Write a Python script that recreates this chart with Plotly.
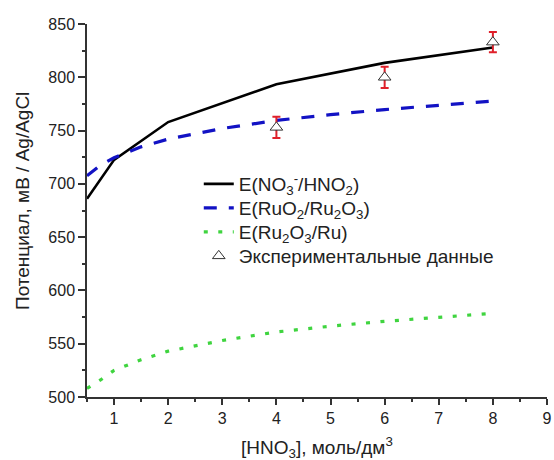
import plotly.graph_objects as go

# HNO3 concentration grid, mol/dm3
conc = [0.5, 0.75, 1, 1.5, 2, 3, 4, 5, 6, 7, 8]

# E(NO3-/HNO2), mV (piecewise, computed at these concentrations)
conc_no3 = [0.5, 1, 2, 4, 6, 8]
e_no3 = [686, 722.5, 758, 793.5, 813.5, 828]

# E(RuO2/Ru2O3), mV
e_ruo2 = [707.5, 717.5, 724.5, 734.7, 742, 752, 759.5, 765, 769.7, 773.5, 777.7]

# E(Ru2O3/Ru), mV
e_ru2o3 = [508, 516, 525, 535, 543, 553, 561, 566.5, 571, 575, 578.5]

# Experimental potentials with error
conc_exp = [4, 6, 8]
e_exp = [753, 800, 833]
e_err = [10, 10, 9.5]

FONT = "Liberation Sans, Arial, sans-serif"
TEXT = "#222222"

fig = go.Figure()

fig.add_trace(go.Scatter(
    x=conc_no3, y=e_no3, mode="lines",
    line=dict(color="#000000", width=2.6),
    name="E(NO<sub>3</sub><sup>-</sup>/HNO<sub>2</sub>)",
    legend="legend",
))
fig.add_trace(go.Scatter(
    x=conc, y=e_ruo2, mode="lines",
    line=dict(color="#1212c4", width=3.2, dash="13px,12px"),
    name="E(RuO<sub>2</sub>/Ru<sub>2</sub>O<sub>3</sub>)",
    legend="legend2",
))
fig.add_trace(go.Scatter(
    x=conc, y=e_ru2o3, mode="lines",
    line=dict(color="#3fd43f", width=3.2, dash="4px,10.5px"),
    name="E(Ru<sub>2</sub>O<sub>3</sub>/Ru)",
    legend="legend3",
))
fig.add_trace(go.Scatter(
    x=conc_exp, y=e_exp, mode="markers",
    marker=dict(symbol="triangle-up", size=11, color="white",
                line=dict(color="#333333", width=1)),
    error_y=dict(type="data", array=e_err, visible=True,
                 color="#e0202a", thickness=2, width=4),
    name="Экспериментальные данные",
    legend="legend4",
))

axis_common = dict(
    showline=True, linecolor="#333333", linewidth=1.5,
    showgrid=False, zeroline=False, mirror=False,
    ticks="outside", tickcolor="#333333", tickwidth=1.5,
    tickfont=dict(family=FONT, size=16, color=TEXT),
    ticklabeloverflow="allow",
)

fig.update_xaxes(
    range=[0.5, 9], tick0=1, dtick=1, ticklen=6,
    minor=dict(dtick=0.5, tick0=0.5, ticks="outside", ticklen=3,
               tickcolor="#333333", tickwidth=1.5),
    **axis_common,
)
fig.update_yaxes(
    range=[500, 850], tick0=500, dtick=50, ticklen=7,
    minor=dict(dtick=25, tick0=500, ticks="outside", ticklen=3.5,
               tickcolor="#333333", tickwidth=1.5),
    **axis_common,
)

fig.add_annotation(
    text="Потенциал, мВ / Ag/AgCl", textangle=-90,
    x=0, xref="paper", xanchor="center", xshift=-64,
    y=0.5255, yref="paper", yanchor="middle",
    showarrow=False, font=dict(family=FONT, size=19, color=TEXT),
)
fig.add_annotation(
    text="[HNO<sub>3</sub>], моль/дм<sup>3</sup>",
    x=0.5, xref="paper", xanchor="center",
    y=0, yref="paper", yanchor="middle", yshift=-50,
    showarrow=False, font=dict(family=FONT, size=19, color=TEXT),
)

# one legend per entry so the rows can sit closer together
plot_top, plot_bottom = 24, 397
row_centres = [184, 208, 232, 256]


def legend_box(yc):
    return dict(
        x=0.243, y=(plot_bottom - yc) / (plot_bottom - plot_top),
        xanchor="left", yanchor="middle",
        bgcolor="rgba(0,0,0,0)", borderwidth=0,
        font=dict(family=FONT, size=19, color=TEXT),
    )


fig.update_layout(
    width=554, height=460,
    margin=dict(l=87, r=2, t=24, b=63),
    paper_bgcolor="white", plot_bgcolor="white",
    showlegend=True,
    legend=legend_box(row_centres[0]),
    legend2=legend_box(row_centres[1]),
    legend3=legend_box(row_centres[2]),
    legend4=legend_box(row_centres[3]),
)

fig.write_html("out.html")
